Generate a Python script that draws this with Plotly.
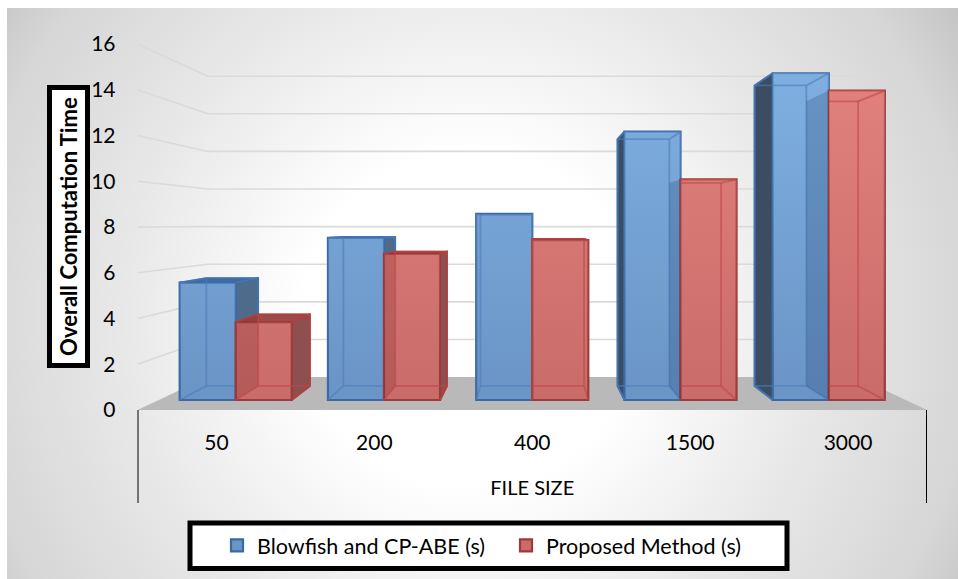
import base64
import plotly.graph_objects as go

# ---- data ----
categories = ["50", "200", "400", "1500", "3000"]
blowfish_cpabe = [5.42, 7.49, 8.6, 12.4, 15.1]
proposed_method = [3.6, 6.75, 7.39, 10.2, 14.3]
y_ticks = [0, 2, 4, 6, 8, 10, 12, 14, 16]
series_names = ["Blowfish and CP-ABE (s)", "Proposed Method (s)"]
x_title = "FILE SIZE"
y_title = "Overall Computation Time"

# ---- layout constants (pixels) ----
W, H = 958, 579
X0, X1, Y0, Y16 = 137.5, 927.0, 410.0, 44.0
FONT = "Lato"

# ---- pseudo-3D projection, all in data coordinates ----
VX, VY = 2.5, 8.09
WALL_S = 0.822
FRONT = (0.939, 0.946)
BACK = (0.868, 0.870)
BAR_W = 0.378


def proj(x, y, s):
    return VX + s[0] * (x - VX), VY + s[1] * (y - VY)


def poly(pts):
    xs = [p[0] for p in pts] + [pts[0][0], None]
    ys = [p[1] for p in pts] + [pts[0][1], None]
    return xs, ys


def merged(polys):
    xs, ys = [], []
    for p in polys:
        a, b = poly(p)
        xs += a
        ys += b
    return xs, ys


fig = go.Figure()


def add_fill(polys, fill, line, z, lw=1.8):
    if not polys:
        return
    xs, ys = merged(polys)
    fig.add_trace(go.Scatter(x=xs, y=ys, mode="lines", fill="toself", fillcolor=fill,
                             line=dict(color=line, width=lw), hoverinfo="skip",
                             showlegend=False, zorder=z))


# floor
w = (WALL_S, WALL_S)
add_fill([[(0, 0), (5, 0), proj(5, 0, w), proj(0, 0, w)]], "#b9b9b9", "rgba(0,0,0,0)", 0, 0)

# wall gridlines (left wall and back wall)
gx, gy = [], []
for v in y_ticks[1:]:
    a, b = proj(0, v, w), proj(5, v, w)
    gx += [0, a[0], b[0], None]
    gy += [v, a[1], b[1], None]
fig.add_trace(go.Scatter(x=gx, y=gy, mode="lines", line=dict(color="#dadada", width=1.6),
                         hoverinfo="skip", showlegend=False, zorder=0))

styles = [
    dict(values=blowfish_cpabe, off=0.5 - BAR_W, name=series_names[0], front="#6b95c7", edge="#3a6aa4",
         inner="rgba(75,125,185,0.6)", right_out="#4f6b8c", left_out="#3c4c63", top_out="#3f6ba3",
         sheen="rgba(150,205,255,0.5)", sheen0="rgba(150,205,255,0)", base_z=1, inner_z=3),
    dict(values=proposed_method, off=0.5, name=series_names[1], front="#ca6c6a", edge="#9e3a39",
         inner="rgba(190,70,70,0.6)", right_out="#8c5051", left_out="#8c5051", top_out="#9a4b4a",
         sheen="rgba(255,155,150,0.5)", sheen0="rgba(255,155,150,0)", base_z=4, inner_z=8),
]

for st in styles:
    side_right, side_left, top_out, sheen_polys = [], [], [], []
    centers, bases, heights = [], [], []
    lx, ly = [], []
    is_red = st["off"] >= 0.5
    for i, v in enumerate(st["values"]):
        xl, xr = i + st["off"], i + st["off"] + BAR_W
        f_bl, f_br, f_tl, f_tr = proj(xl, 0, FRONT), proj(xr, 0, FRONT), proj(xl, v, FRONT), proj(xr, v, FRONT)
        b_bl, b_br, b_tl, b_tr = proj(xl, 0, BACK), proj(xr, 0, BACK), proj(xl, v, BACK), proj(xr, v, BACK)
        centers.append((f_bl[0] + f_br[0]) / 2)
        bases.append(f_bl[1])
        heights.append(f_tl[1] - f_bl[1])
        sheen_polys.append([f_bl, f_br, f_tr, f_tl])
        if xr < VX:  # right face shows beyond the front
            side_right.append([f_br, b_br, b_tr, f_tr])
        if xl > VX:  # left face shows beyond the front
            side_left.append([f_bl, b_bl, b_tl, f_tl])
        if v < VY:
            top_out.append([f_tl, f_tr, b_tr, b_tl])
        if is_red and xl > VX:
            # the part of the far edge that lies behind the neighbouring blue front is hidden
            edges = [((f_bl[0], b_bl[1]), b_br), (b_br, b_tr), (b_tr, (f_tl[0], b_tl[1])),
                     (f_br, b_br), (f_tr, b_tr)]
        else:
            edges = [(b_bl, b_br), (b_br, b_tr), (b_tr, b_tl), (b_tl, b_bl),
                     (f_bl, b_bl), (f_br, b_br), (f_tl, b_tl), (f_tr, b_tr)]
        for a, c in edges:
            lx += [a[0], c[0], None]
            ly += [a[1], c[1], None]
    z = st["base_z"]
    add_fill(side_right, st["right_out"], st["edge"], z)
    if not is_red:
        add_fill(side_left, st["left_out"], st["edge"], z)
    add_fill(top_out, st["top_out"], st["edge"], z)
    fig.add_trace(go.Bar(x=centers, y=heights, base=bases, width=BAR_W * FRONT[0], name=st["name"],
                         marker=dict(color=st["front"], line=dict(color=st["edge"], width=2.2)),
                         hoverinfo="skip", zorder=z + 1))
    xs, ys = merged(sheen_polys)
    fig.add_trace(go.Scatter(x=xs, y=ys, mode="lines", fill="toself", line=dict(width=0, color="rgba(0,0,0,0)"),
                             fillgradient=dict(type="vertical", start=1.0, stop=16.0,
                                               colorscale=[[0, st["sheen0"]], [1, st["sheen"]]]),
                             hoverinfo="skip", showlegend=False, zorder=z + 2))
    if is_red:
        tint_red, tint_blue = [], []
        for i, v in enumerate(st["values"]):
            xl = i + st["off"]
            face = [proj(xl, 0, FRONT), proj(xl, 0, BACK), proj(xl, v, BACK), proj(xl, v, FRONT)]
            (tint_red if xl <= VX else tint_blue).append(face)
        add_fill(tint_red, "rgba(110,30,30,0.22)", "rgba(0,0,0,0)", 7, 0)
        add_fill(tint_blue, "rgba(20,50,100,0.22)", "rgba(0,0,0,0)", 7, 0)
    fig.add_trace(go.Scatter(x=lx, y=ly, mode="lines", line=dict(color=st["inner"], width=1.8),
                             hoverinfo="skip", showlegend=False, zorder=st["inner_z"]))

# ---- background: radial grey gradient, as an inline SVG ----
svg = f'''<svg xmlns="http://www.w3.org/2000/svg" width="951" height="571" viewBox="7 8 951 571">
<defs><radialGradient id="g" gradientUnits="userSpaceOnUse" cx="470" cy="320" r="620">
<stop offset="0" stop-color="#ffffff"/><stop offset="0.27" stop-color="#ffffff"/>
<stop offset="0.56" stop-color="#e8e8e8"/><stop offset="0.82" stop-color="#d6d6d6"/>
<stop offset="1" stop-color="#bababa"/></radialGradient></defs>
<rect x="7" y="8" width="951" height="571" fill="url(#g)"/></svg>'''
bg = "data:image/svg+xml;base64," + base64.b64encode(svg.encode()).decode()


def px(x):
    return x / W


def py(y):
    return 1 - y / H


fig.update_layout(
    width=W, height=H, autosize=False,
    margin=dict(l=0, r=0, t=0, b=0, pad=0, autoexpand=False),
    paper_bgcolor="white", plot_bgcolor="rgba(0,0,0,0)",
    barmode="overlay",
    font=dict(family=FONT, size=21, color="black"),
    images=[dict(source=bg, xref="paper", yref="paper", x=px(7), y=py(8), sizex=951 / W, sizey=571 / H,
                 xanchor="left", yanchor="top", sizing="stretch", layer="below")],
    xaxis=dict(domain=[px(X0), px(X1)], range=[0, 5], tickvals=[i + 0.5 for i in range(5)], ticktext=categories,
               showgrid=False, zeroline=False, showline=True, linecolor="black", linewidth=2.5,
               ticks="", ticklabelstandoff=12, tickfont=dict(size=21, family=FONT),
               title=dict(text=x_title, font=dict(size=20, family=FONT), standoff=29)),
    yaxis=dict(domain=[py(Y0), py(Y16)], range=[0, 16], tickvals=y_ticks,
               showgrid=False, zeroline=False, showline=True, linecolor="black", linewidth=2.5,
               ticks="", ticklabelstandoff=15, tickfont=dict(size=21, family=FONT)),
    legend=dict(orientation="h", x=px(217), y=py(545.5), xanchor="left", yanchor="middle",
                bgcolor="rgba(0,0,0,0)", borderwidth=0, font=dict(size=21.5, family=FONT),
                entrywidth=244, entrywidthmode="pixels", traceorder="normal"),
    shapes=[
        dict(type="line", xref="x", yref="paper", x0=0, x1=0, y0=py(Y0), y1=py(503), line=dict(color="black", width=2)),
        dict(type="line", xref="x", yref="paper", x0=5, x1=5, y0=py(Y0), y1=py(503), line=dict(color="black", width=2)),
        dict(type="rect", xref="paper", yref="paper", x0=px(190), x1=px(787), y0=py(523), y1=py(568.5),
             line=dict(color="black", width=5), fillcolor="white", layer="above"),
    ],
    annotations=[
        dict(text=y_title, xref="paper", yref="paper", x=px(68.5), y=py(226.5), xanchor="center", yanchor="middle",
             textangle=-90, showarrow=False, font=dict(family=FONT, size=22, color="black", weight="bold"),
             bgcolor="white", bordercolor="black", borderwidth=5, borderpad=0, width=273, height=33),
    ],
)

fig.write_html("out.html", config={"displayModeBar": False}, post_script="document.body.style.margin='0';")
